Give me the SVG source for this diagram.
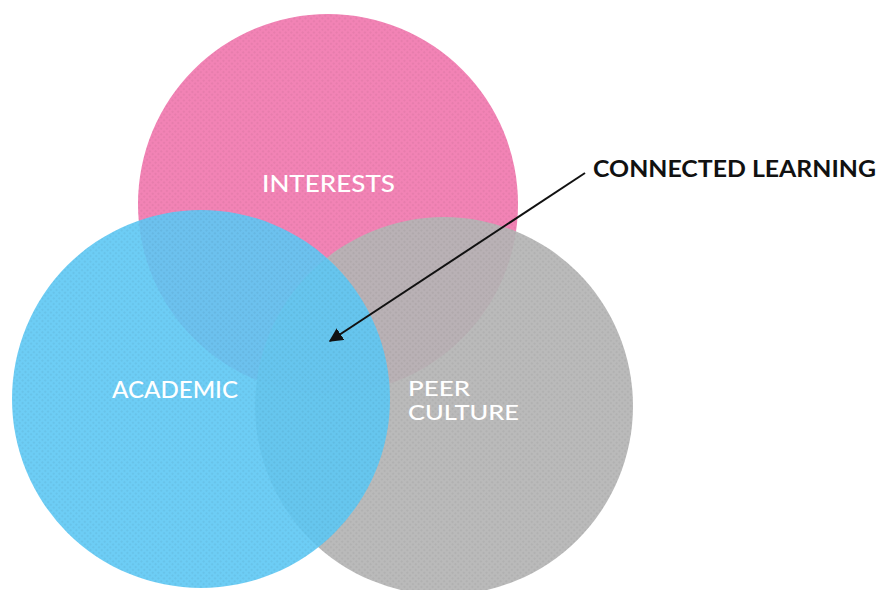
<svg xmlns="http://www.w3.org/2000/svg" width="881" height="590" viewBox="0 0 881 590">
<defs>
<style>
.lbl{font-family:"Lato","Open Sans","Liberation Sans",sans-serif;font-weight:500;font-size:23px;fill:#ffffff;}
.sm{font-size:21px;}
.call{font-family:"Lato","Liberation Sans",sans-serif;font-weight:700;font-size:23px;fill:#111111;}
</style>
<pattern id="dots" width="4" height="4" patternUnits="userSpaceOnUse" patternTransform="rotate(45)">
<rect width="4" height="4" fill="none"/>
<circle cx="1" cy="1" r="0.7" fill="#000" fill-opacity="0.12"/>
</pattern>
<marker id="arr" viewBox="0 0 10 10" refX="9" refY="5" markerWidth="7" markerHeight="7" orient="auto" markerUnits="strokeWidth">
<path d="M0,0 L10,5 L0,10 z" fill="#111"/>
</marker>
</defs>
<rect width="881" height="590" fill="#ffffff"/>
<g id="interests">
<circle cx="328" cy="204" r="190" fill="#F283B5"/>
<circle cx="328" cy="204" r="190" fill="url(#dots)"/>
<text class="lbl" x="262" y="192" textLength="133" lengthAdjust="spacingAndGlyphs">INTERESTS</text>
</g>
<g id="peer-culture">
<circle cx="444" cy="406" r="189" fill="#B5B5B5" fill-opacity="0.93"/>
<circle cx="444" cy="406" r="189" fill="url(#dots)"/>
</g>
<g id="academic">
<circle cx="201" cy="399" r="189" fill="#5DC8F4" fill-opacity="0.9"/>
<circle cx="201" cy="399" r="189" fill="url(#dots)"/>
<text class="lbl" x="112" y="398" textLength="126" lengthAdjust="spacingAndGlyphs">ACADEMIC</text>
</g>
<g id="peer-culture-label">
<text class="lbl sm" x="408" y="396" textLength="62" lengthAdjust="spacingAndGlyphs">PEER</text>
<text class="lbl sm" x="408" y="420" textLength="111" lengthAdjust="spacingAndGlyphs">CULTURE</text>
</g>
<g id="connectors">
<line x1="585" y1="173" x2="330" y2="341" stroke="#111" stroke-width="2" marker-end="url(#arr)"/>
</g>
<g id="connected-learning">
<text class="call" x="593" y="177" textLength="283" lengthAdjust="spacingAndGlyphs">CONNECTED LEARNING</text>
</g>
</svg>
